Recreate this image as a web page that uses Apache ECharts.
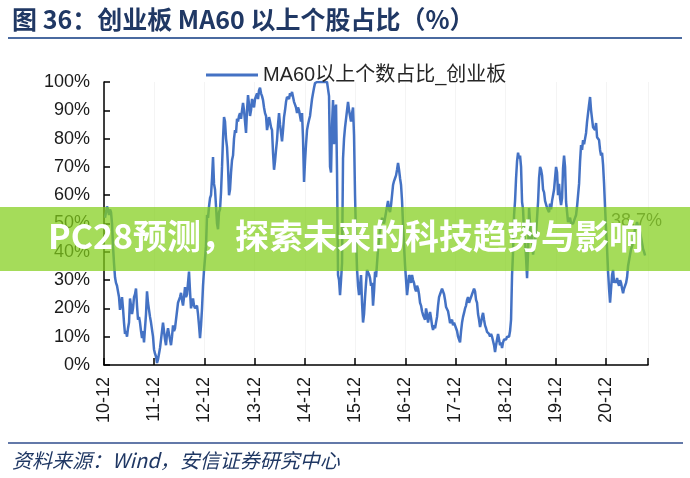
<!DOCTYPE html>
<html>
<head>
<meta charset="utf-8">
<script src="https://cdn.jsdelivr.net/npm/echarts@6/dist/echarts.min.js"></script>
<style>
  html, body { margin: 0; background: #fff; }
  #chart { width: 690px; height: 478px; }
</style>
</head>
<body>
<div id="chart"></div>
<script>
  // tick labels sit on every December, counted in months from 2010-12
  const xTickLabels = ['10-12', '11-12', '12-12', '13-12', '14-12', '15-12', '16-12', '17-12', '18-12', '19-12', '20-12']
  const seriesName = 'MA60以上个数占比_创业板'
  const lastLabel = '38.7%'

  // roughly weekly readings (months since 2010-12)
  const firstReading = 0.24
  const readingStep = 0.239

  // share of ChiNext stocks above MA60, %
  const shareVals = [
    52, 54, 56, 55, 53, 55, 54, 50, 42, 36,
    31, 29, 28, 26, 24, 19.5, 21, 24, 20, 15,
    11, 12, 10, 13, 15, 23.5, 21, 18, 20, 24,
    25, 27, 21, 16, 17, 15, 12, 9.5, 12, 8,
    13, 18, 26, 22, 19.5, 17, 15, 12.5, 10, 5.5,
    4, 3, 0.7, 2, 4, 6, 9, 12, 15, 12,
    9, 7, 11, 13, 11, 9, 7, 10, 14, 12,
    13, 16, 19, 22, 23, 24, 25.5, 23, 21, 24,
    27.5, 24, 25, 29, 33, 26, 20, 22, 23.5, 21,
    20, 19.5, 21, 18, 14, 9.5, 14, 20, 28, 33.5,
    33, 42, 53, 52, 56, 59, 60, 66, 73.5, 64,
    62, 56, 50, 48, 54, 55, 61, 70, 80, 87.6,
    86, 80, 77, 70, 60, 62, 68, 72.4, 74, 80,
    83, 82, 87, 86, 88, 89, 87, 90, 92.6, 90,
    86, 82, 90, 95.4, 92, 88, 90, 94, 93.6, 91,
    94, 95, 96, 94, 97, 98, 96, 95, 93.6, 91,
    89, 88, 83, 85, 87.6, 86, 84, 83, 75, 69,
    72, 76, 79.5, 85, 89, 85, 82, 79, 83, 87.6,
    90, 93, 94.7, 95, 94, 96, 95, 96.5, 96, 93,
    92, 91, 89, 91, 90, 88, 86, 89, 80, 64.7,
    72, 78, 83, 85, 86.6, 88, 91, 94, 96, 98,
    99.6, 100, 100, 100, 100, 100, 100, 100, 100, 100,
    100, 100, 100, 100, 95, 70, 68, 85, 93.6, 78,
    90, 92, 68, 31.8, 30, 24.7, 30, 36, 73, 80,
    84, 87, 90, 93, 90, 88, 86, 89, 91, 81,
    60, 45, 34, 28, 24.7, 28, 31.8, 22, 15, 18,
    24, 29, 33.6, 34, 32, 30.7, 28, 29, 21, 26,
    33, 31, 36, 41, 44, 48, 50, 52, 51, 50,
    50.5, 54, 56, 58, 55, 54, 56.5, 60, 63.6, 65,
    66, 67, 69, 71.4, 69, 66, 63.6, 58, 49.5, 42,
    35.3, 30, 24.7, 28, 31.8, 31, 29, 31.8, 30, 29,
    27, 26, 28, 27, 25, 22, 21, 19, 17.7, 18,
    16, 20, 18, 15, 17, 18.7, 16.6, 14, 12.4, 14,
    13, 15, 17, 21, 24, 25, 26, 27, 27.5, 25,
    23, 20.5, 21, 19, 17, 14.8, 15, 16, 14, 15,
    14, 13, 12, 10, 9, 8, 12, 15, 17, 18.4,
    20, 21, 23, 24, 22, 23, 24, 25, 26, 27,
    26, 23, 22, 18, 16, 13.4, 15, 17, 18.4, 16,
    14, 13, 11.7, 12, 11, 10, 11, 10, 9.5, 7,
    4.6, 7, 9, 11, 9, 7, 8, 6, 8, 9,
    9.5, 9, 10, 10.6, 10, 12, 16, 31.8, 40, 53,
    58, 66, 72, 75, 73, 74, 70, 57.6, 55, 47,
    44, 38, 30.7, 40, 55.5, 50, 43.5, 46, 39, 42,
    44, 47, 52, 57.6, 66, 70, 69, 67, 62, 61,
    58, 58, 55.5, 55, 54, 57, 55, 58, 60, 62,
    66, 70, 68, 60, 64, 59, 56.5, 59, 69.6, 74,
    70, 57.6, 54, 50.5, 51, 52, 50, 49.5, 50, 51,
    50.5, 53, 56, 60, 64, 72, 77.7, 76, 79.5, 78,
    80, 82, 86, 89, 92, 94.7, 90, 87, 84, 84,
    83, 85.5, 80.5, 80, 79.5, 76, 74, 75, 70.7, 64,
    55.5, 48, 41, 33, 27, 22, 27, 31.8, 33.6, 29,
    30, 29, 30.7, 29, 28, 30, 29, 27, 25.4, 27,
    28, 29, 31, 35, 37, 39, 41, 42, 43.5, 46,
    48, 49, 50.5, 49, 48, 47, 45, 43, 41, 40,
    38.7
  ]

  const fontLatin = '"Liberation Sans", "Noto Sans CJK SC", sans-serif'
  const fontCjk = '"Noto Sans CJK SC", "Liberation Sans", sans-serif'
  const navy = '#203864'

  const points = shareVals.map((v, i) => [firstReading + i * readingStep, v])

  const chart = echarts.init(document.getElementById('chart'))

  chart.setOption({
    animation: false,
    backgroundColor: '#fff',
    grid: {
      left: 104,
      right: 42,
      top: 82,
      bottom: 113
    },
    legend: {
      left: 201,
      top: 60,
      itemWidth: 52,
      itemHeight: 3,
      icon: 'rect',
      textStyle: {
        fontSize: 20,
        color: '#262626',
        fontFamily: fontLatin
      },
      data: [seriesName]
    },
    xAxis: {
      type: 'value',
      min: 0,
      max: 130,
      interval: 12,
      axisLine: { lineStyle: { color: '#000', width: 1.5 } },
      axisTick: { inside: true, length: 7, lineStyle: { color: '#000', width: 1.5 } },
      axisLabel: {
        rotate: 90,
        margin: 12,
        fontSize: 18,
        color: '#1a1a1a',
        fontFamily: fontLatin,
        formatter: v => xTickLabels[Math.round(v / 12)] || ''
      },
      splitLine: { show: true, lineStyle: { color: '#f4f4f4' } }
    },
    yAxis: {
      type: 'value',
      min: 0,
      max: 100,
      interval: 10,
      axisLine: { show: true, lineStyle: { color: '#000', width: 1.5 } },
      axisTick: { show: true, inside: true, length: 6, lineStyle: { color: '#000', width: 1.5 } },
      axisLabel: {
        margin: 14,
        fontSize: 18,
        color: '#1a1a1a',
        fontFamily: fontLatin,
        formatter: '{value}%'
      },
      splitLine: { show: false }
    },
    series: [{
      name: seriesName,
      type: 'line',
      data: points,
      showSymbol: false,
      symbol: 'none',
      lineStyle: { color: '#4472C4', width: 2.5 },
      itemStyle: { color: '#4472C4' },
      endLabel: {
        show: true,
        formatter: () => lastLabel,
        offset: [-42, -34],
        color: '#595959',
        fontSize: 18,
        fontFamily: fontLatin
      }
    }],
    graphic: [
      {
        type: 'text',
        left: 12,
        top: 7,
        style: {
          text: '图 36：创业板 MA60 以上个股占比（%）',
          font: 'bold 25px ' + fontCjk,
          fill: navy
        }
      },
      {
        type: 'line',
        shape: { x1: 8, y1: 38, x2: 682, y2: 38 },
        style: { stroke: '#4a6aa0', lineWidth: 2 }
      },
      {
        type: 'line',
        shape: { x1: 8, y1: 443, x2: 683, y2: 443 },
        style: { stroke: '#2f4c8c', lineWidth: 1.5 }
      },
      {
        type: 'text',
        left: 12,
        top: 450,
        style: {
          text: '资料来源：Wind，安信证券研究中心',
          font: 'italic 20px ' + fontCjk,
          fill: navy
        }
      },
      {
        type: 'rect',
        z: 100,
        shape: { x: 0, y: 207, width: 690, height: 64 },
        style: { fill: 'rgba(130, 206, 26, 0.72)' }
      },
      {
        type: 'text',
        z: 101,
        left: 48,
        top: 219,
        style: {
          text: 'PC28预测，探索未来的科技趋势与影响',
          font: 'bold 34px ' + fontCjk,
          fill: '#fff'
        }
      }
    ]
  })
</script>
</body>
</html>
